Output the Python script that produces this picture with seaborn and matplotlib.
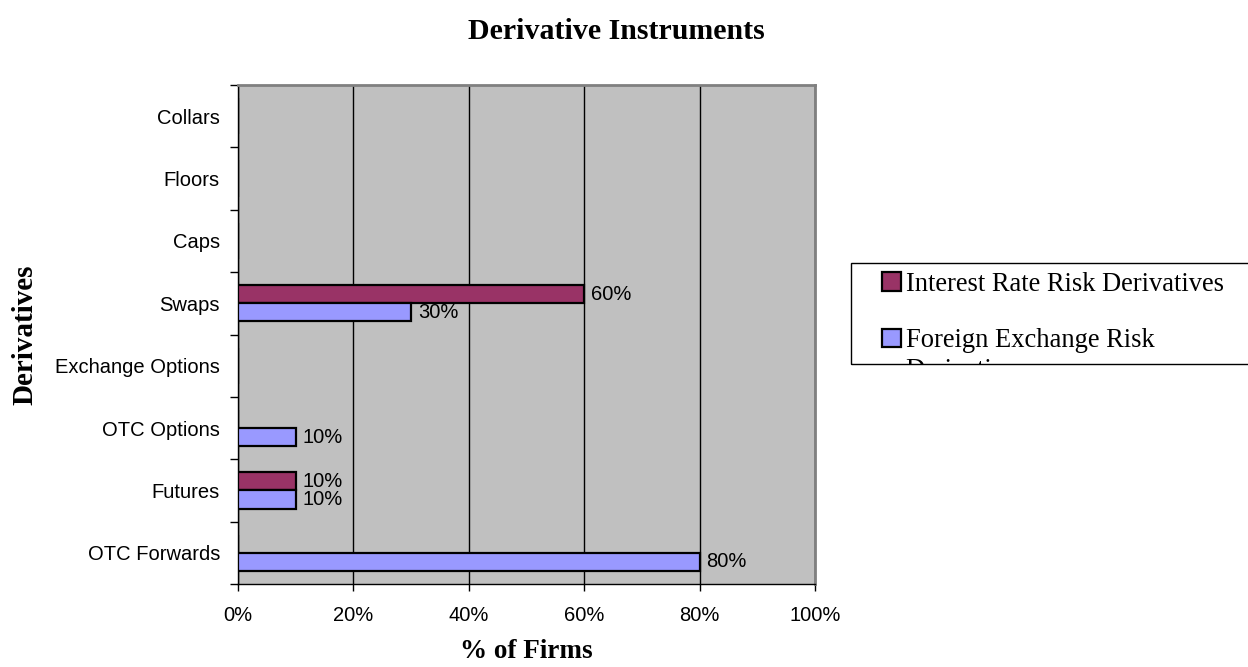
import numpy as np
import pandas as pd
import matplotlib
matplotlib.use("Agg")
import matplotlib.pyplot as plt
from matplotlib.patches import Rectangle, Patch
import seaborn as sns

# ---- data ----
categories = ["OTC Forwards", "Futures", "OTC Options", "Exchange Options",
              "Swaps", "Caps", "Floors", "Collars"]
fx_values = [80, 10, 10, 0, 30, 0, 0, 0]
ir_values = [0, 10, 0, 0, 60, 0, 0, 0]
series_names = ["Interest Rate Risk Derivatives", "Foreign Exchange Risk Derivatives"]
x_ticks = [0, 20, 40, 60, 80, 100]
x_tick_labels = ["0%", "20%", "40%", "60%", "80%", "100%"]
colors = {"Interest Rate Risk Derivatives": "#993366",
          "Foreign Exchange Risk Derivatives": "#9999FF"}

df = pd.DataFrame({
    "category": categories * 2,
    "value": ir_values + fx_values,
    "series": [series_names[0]] * len(categories) + [series_names[1]] * len(categories),
})

sns.set_theme(style="white")
plt.rcParams["font.family"] = ["Liberation Sans", "DejaVu Sans"]
plt.rcParams["text.color"] = "black"
plt.rcParams["axes.labelcolor"] = "black"
plt.rcParams["xtick.color"] = "black"
plt.rcParams["ytick.color"] = "black"

W, H = 1248, 667
fig = plt.figure(figsize=(W / 100, H / 100), dpi=100)
L, R, T, B = 238, 815, 85, 584
ax = fig.add_axes([L / W, 1 - B / H, (R - L) / W, (B - T) / H])
ax.set_facecolor("#C0C0C0")

order = categories[::-1]
sns.barplot(data=df, x="value", y="category", hue="series", order=order,
            hue_order=series_names, palette=colors, width=0.58, saturation=1,
            edgecolor="black", linewidth=1.6, orient="h", legend=False, ax=ax,
            zorder=3)

for cont in ax.containers:
    labels = [f"{v:.0f}%" if v > 0 else "" for v in cont.datavalues]
    ax.bar_label(cont, labels=labels, padding=5, fontsize=14.5, color="black")

ax.set_xlim(0, 100)
ax.set_ylim(len(categories) - 0.5, -0.5)
ax.set_xticks(x_ticks)
ax.set_xticklabels(x_tick_labels)
ax.xaxis.grid(True, color="black", linewidth=1, zorder=1)
ax.set_axisbelow(True)
ax.yaxis.grid(False)

ax.tick_params(axis="x", which="major", direction="out", length=5, width=1,
               color="black", labelsize=14.5, pad=11, bottom=True, labelcolor="black")
ax.tick_params(axis="y", which="major", length=0, labelsize=14.5, pad=13,
               labelcolor="black")
ax.set_yticks(np.arange(-0.5, len(categories), 1), minor=True)
ax.tick_params(axis="y", which="minor", direction="out", length=5.5, width=1,
               color="black", left=True)

for s in ["left", "bottom"]:
    ax.spines[s].set_color("black")
    ax.spines[s].set_linewidth(1)
for s in ["top", "right"]:
    ax.spines[s].set_color("#808080")
    ax.spines[s].set_linewidth(2)

serif = ["Liberation Serif", "DejaVu Serif"]
ax.set_xlabel("% of Firms", fontsize=19.5, fontweight="bold", family=serif,
              labelpad=10, color="black")
ax.set_ylabel("Derivatives", fontsize=21, fontweight="bold", family=serif,
              labelpad=12, color="black")

fig.text(616 / W, 1 - 39 / H, "Derivative Instruments", ha="center", va="baseline",
         fontsize=21.5, fontweight="bold", family=serif, color="black")

# ---- legend (clipped box as in the original) ----
handles = [Patch(facecolor=colors[n], edgecolor="black", linewidth=1.6) for n in series_names]
leg_labels = ["Interest Rate Risk Derivatives", "Foreign Exchange Risk"]
fig.legend(handles, leg_labels, loc="upper left",
           bbox_to_anchor=(882 / 100, (H - 272) / 100),
           bbox_transform=fig.dpi_scale_trans, frameon=False, borderpad=0,
           borderaxespad=0, handlelength=0.7, handleheight=0.7,
           handletextpad=0.22, labelspacing=1.18,
           prop={"family": serif, "size": 19.1})
fig.text(905 / 100, (H - 377) / 100, "Derivatives", transform=fig.dpi_scale_trans,
         va="baseline", ha="left", fontsize=19.1, family=serif, zorder=4, color="black")
fig.patches.append(Rectangle((845 / 100, (H - 420) / 100), 4.2, (420 - 364.5) / 100,
                             transform=fig.dpi_scale_trans, facecolor="white",
                             edgecolor="none", zorder=10))
fig.patches.append(Rectangle((851 / 100, (H - 364) / 100), 4.2, (364 - 263) / 100,
                             transform=fig.dpi_scale_trans, facecolor="none",
                             edgecolor="black", linewidth=1, zorder=11))

fig.savefig("out.png", dpi=100)
